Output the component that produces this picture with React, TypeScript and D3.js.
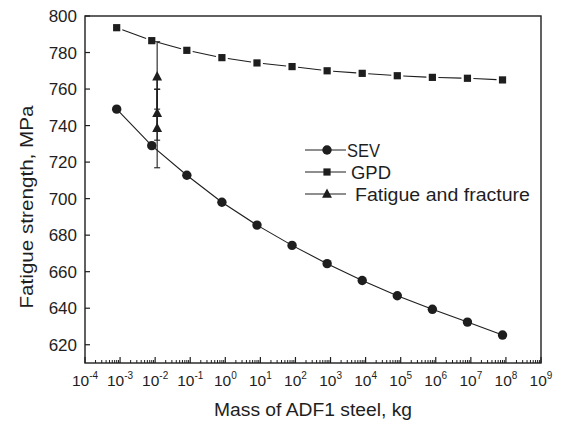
import React from "react";
import * as d3 from "d3";

const W = 568;
const H = 422;

// Mass of ADF1 steel, kg
const sevMass = [0.0008, 0.008, 0.08, 0.8, 8, 80, 800, 8000, 8e4, 8e5, 8e6, 8e7];
const sevStrength = [749, 729, 712.8, 698, 685.5, 674.4, 664.4, 655.2, 646.8, 639.4, 632.4, 625.3];

const gpdMass = [0.0008, 0.008, 0.08, 0.8, 8, 80, 800, 8000, 8e4, 8e5, 8e6, 8e7];
const gpdStrength = [793.6, 786.5, 781.2, 777.2, 774.3, 772.3, 770, 768.6, 767.3, 766.4, 765.9, 765];

const ffMass = [0.0114, 0.0114, 0.0114];
const ffStrength = [766.8, 746.7, 738.5];
const ffLow = [749, 732, 716.9];
const ffHigh = [785.9, 759.9, 759.9];

const yTicks = [620, 640, 660, 680, 700, 720, 740, 760, 780, 800];
const xTickExp = [-4, -3, -2, -1, 0, 1, 2, 3, 4, 5, 6, 7, 8, 9];

const legendLabels = ["SEV", "GPD", "Fatigue and fracture"];

const FONT = "'Liberation Sans', Arial, Helvetica, sans-serif";
const INK = "#1e1e1e";

export default function App() {
  const left = 85, right = 541, top = 16, bottom = 363;
  const x = d3.scaleLog().domain([1e-4, 1e9]).range([left, right]);
  const y = d3.scaleLinear().domain([610, 800]).range([bottom, top]);

  const sevPts = sevMass.map((m, i) => [x(m), y(sevStrength[i])] as [number, number]);
  const gpdPts = gpdMass.map((m, i) => [x(m), y(gpdStrength[i])] as [number, number]);
  const line = d3.line();

  const minor: number[] = [];
  for (let e = -4; e < 9; e++) {
    for (let k = 2; k <= 9; k++) minor.push(k * Math.pow(10, e));
  }

  const gap = 6;
  const gpdSegs = gpdPts.slice(1).map((p, i) => {
    const a = gpdPts[i];
    const dx = p[0] - a[0], dy = p[1] - a[1];
    const L = Math.hypot(dx, dy);
    const ux = dx / L, uy = dy / L;
    return [a[0] + ux * gap, a[1] + uy * gap, p[0] - ux * gap, p[1] - uy * gap];
  });

  const tri = (cx: number, cy: number, s: number) =>
    `M${cx},${cy - s * 0.62}L${cx + s * 0.55},${cy + s * 0.42}L${cx - s * 0.55},${cy + s * 0.42}Z`;

  const ffX = ffMass.map((m) => x(m));

  const legRows = [150, 172, 194];
  const legTextX = [347, 351, 355];
  const legTextLen = [33, 40, 175];

  return (
    <svg
      width={W}
      height={H}
      style={{ position: "absolute", left: 0, top: 0, background: "#fff" }}
      fontFamily={FONT}
    >
      <rect x={0} y={0} width={W} height={H} fill="#fff" />

      <path d={line(sevPts) || ""} fill="none" stroke={INK} strokeWidth={1.1} />
      {gpdSegs.map((s, i) => (
        <line key={i} x1={s[0]} y1={s[1]} x2={s[2]} y2={s[3]} stroke={INK} strokeWidth={1.1} />
      ))}

      {ffX.map((cx, i) => (
        <g key={i} stroke={INK} strokeWidth={1.1}>
          <line x1={cx} x2={cx} y1={y(ffHigh[i])} y2={y(ffLow[i])} />
          <line x1={cx - 3} x2={cx + 3} y1={y(ffHigh[i])} y2={y(ffHigh[i])} />
          <line x1={cx - 3} x2={cx + 3} y1={y(ffLow[i])} y2={y(ffLow[i])} />
        </g>
      ))}
      <path
        d={line(ffX.map((cx, i) => [cx, y(ffStrength[i])] as [number, number])) || ""}
        stroke={INK}
        strokeWidth={1.4}
        fill="none"
      />

      {sevPts.map((p, i) => (
        <circle key={i} cx={p[0]} cy={p[1]} r={4.7} fill={INK} />
      ))}
      {gpdPts.map((p, i) => (
        <rect key={i} x={p[0] - 3.6} y={p[1] - 3.6} width={7.2} height={7.2} fill={INK} />
      ))}
      {ffX.map((cx, i) => (
        <path key={i} d={tri(cx, y(ffStrength[i]), 9)} fill={INK} />
      ))}

      <rect x={left} y={top} width={right - left} height={bottom - top} fill="none" stroke={INK} strokeWidth={1.4} />

      {yTicks.map((t) => (
        <g key={t}>
          <line x1={left} x2={left + 5} y1={y(t)} y2={y(t)} stroke={INK} strokeWidth={1.2} />
          <text x={77} y={y(t)} dy="0.36em" textAnchor="end" fontSize={17} fill={INK}>
            {t}
          </text>
        </g>
      ))}

      {minor.map((m, i) => (
        <line key={i} x1={x(m)} x2={x(m)} y1={bottom} y2={bottom - 3} stroke={INK} strokeWidth={1} />
      ))}
      {xTickExp.map((e) => {
        const v = Math.pow(10, e);
        return (
          <g key={e}>
            <line x1={x(v)} x2={x(v)} y1={bottom} y2={bottom - 6} stroke={INK} strokeWidth={1.2} />
            <text x={x(v)} y={386} textAnchor="middle" fontSize={15.5} fill={INK}>
              10
              <tspan fontSize={10} dy={-7}>
                {e < 0 ? `-${-e}` : `${e}`}
              </tspan>
            </text>
          </g>
        );
      })}

      <text
        x={(left + right) / 2}
        y={416}
        textAnchor="middle"
        fontSize={17.5}
        fill={INK}
        textLength={198}
        lengthAdjust="spacingAndGlyphs"
      >
        Mass of ADF1 steel, kg
      </text>
      <text
        transform={`translate(33,207) rotate(-90)`}
        textAnchor="middle"
        fontSize={17.5}
        fill={INK}
        textLength={203}
        lengthAdjust="spacingAndGlyphs"
      >
        Fatigue strength, MPa
      </text>

      {legendLabels.map((lab, i) => {
        const cy = legRows[i];
        return (
          <g key={lab}>
            <line x1={305} x2={346} y1={cy} y2={cy} stroke={INK} strokeWidth={1.2} />
            {i === 0 && <circle cx={327} cy={cy} r={4.7} fill={INK} />}
            {i === 1 && <rect x={327 - 3.6} y={cy - 3.6} width={7.2} height={7.2} fill={INK} />}
            {i === 2 && <path d={tri(327, cy, 9)} fill={INK} />}
            <text
              x={legTextX[i]}
              y={cy + 7}
              fontSize={17.5}
              fill={INK}
              textLength={legTextLen[i]}
              lengthAdjust="spacingAndGlyphs"
            >
              {lab}
            </text>
          </g>
        );
      })}
    </svg>
  );
}
